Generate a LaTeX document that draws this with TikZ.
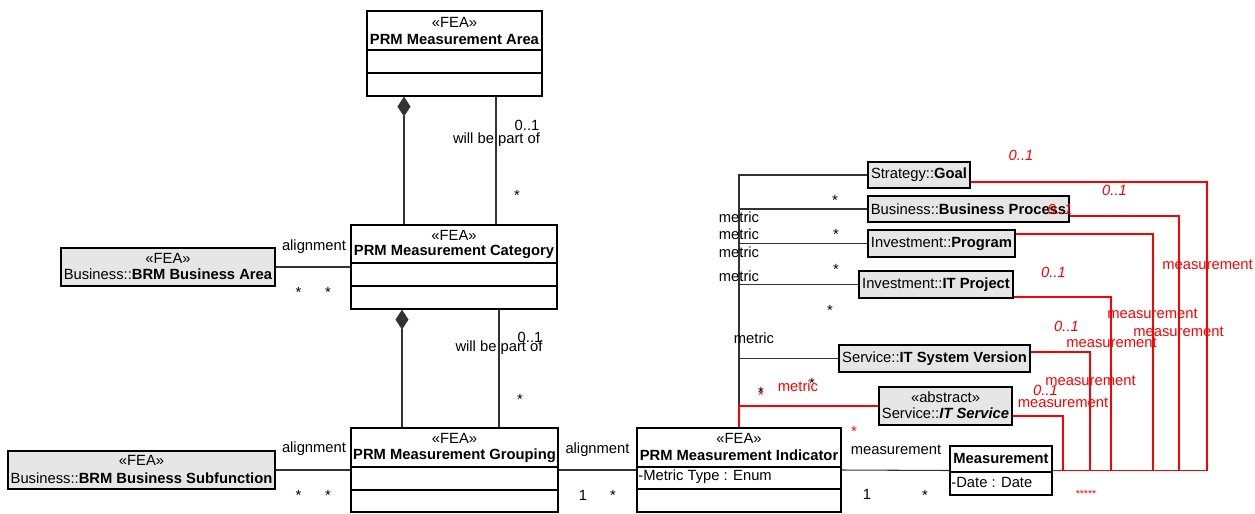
\documentclass[tikz,border=0pt]{standalone}
\usepackage{fontspec}
\setmainfont{Liberation Sans}
\usetikzlibrary{fit,arrows.meta}
\definecolor{boxgray}{RGB}{230,230,230}
\definecolor{umlred}{RGB}{255,0,0}
\tikzset{
  box/.style={draw, line width=0.7pt, inner sep=0pt},
  extbox/.style={box, fill=boxgray},
  lbl/.style={inner sep=0pt},
  redlbl/.style={lbl, text=umlred},
  assoc/.style={line width=0.6pt, draw=black!80},
  redassoc/.style={line width=0.7pt, draw=umlred},
  comp/.tip={Diamond[length=4mm,width=2.6mm]}
}
\begin{document}
\begin{tikzpicture}[x=0.2mm,y=-0.2mm,font=\fontsize{8.4}{10}\selectfont]
\useasboundingbox (0,0) rectangle (1255,513);

% FEA classes
\node[box, fit={(367,11) (542,96)}] (area) {};
\draw[box] (area.west |- 0,50) -- (area.east |- 0,50);
\draw[box] (area.west |- 0,73) -- (area.east |- 0,73);
\node[lbl] at (454.5,22) {«FEA»};
\node[lbl] at (454.5,39) {\textbf{PRM Measurement Area}};

\node[box, fit={(351,225) (557,309)}] (category) {};
\draw[box] (category.west |- 0,263) -- (category.east |- 0,263);
\draw[box] (category.west |- 0,286) -- (category.east |- 0,286);
\node[lbl] at (454,235) {«FEA»};
\node[lbl] at (454,252) {\textbf{PRM Measurement Category}};

\node[box, fit={(351,428) (558,512)}] (grouping) {};
\draw[box] (grouping.west |- 0,467) -- (grouping.east |- 0,467);
\draw[box] (grouping.west |- 0,490) -- (grouping.east |- 0,490);
\node[lbl] at (454.5,438) {«FEA»};
\node[lbl] at (454.5,456) {\textbf{PRM Measurement Grouping}};

\node[box, fit={(637,428) (841,512)}] (indicator) {};
\draw[box] (indicator.west |- 0,467) -- (indicator.east |- 0,467);
\draw[box] (indicator.west |- 0,489) -- (indicator.east |- 0,489);
\node[lbl] at (739,438.5) {«FEA»};
\node[lbl] at (739,455) {\textbf{PRM Measurement Indicator}};
\node[lbl, anchor=west] at (638,477) {-Metric Type : Enum};

\node[box, fill=white, fit={(950,446) (1052,495)}] (measure) {};
\draw[box] (measure.west |- 0,472) -- (measure.east |- 0,472);
\node[lbl] at (1001,458) {\textbf{Measurement}};
\node[lbl, anchor=west] at (951,482) {-Date : Date};

% outside classes
\node[extbox, fit={(61,248) (275,286)}] (brmarea) {};
\node[lbl] at (168,258) {«FEA»};
\node[lbl] at (168,274) {Business::\textbf{BRM Business Area}};

\node[extbox, fit={(8,451) (275,489)}] (brmsub) {};
\node[lbl] at (141.5,460) {«FEA»};
\node[lbl] at (141.5,478) {Business::\textbf{BRM Business Subfunction}};

\node[extbox, fit={(868,162) (970,188)}] (goal) {};
\node[lbl] at (goal) {Strategy::\textbf{Goal}};
\node[extbox, fit={(868,196) (1069,222)}] (bproc) {};
\node[lbl] at (bproc) {Business::\textbf{Business Process}};
\node[extbox, fit={(868,230) (1015,257)}] (program) {};
\node[lbl] at (program) {Investment::\textbf{Program}};
\node[extbox, fit={(859,271) (1013,298)}] (itproj) {};
\node[lbl] at (itproj) {Investment::\textbf{IT Project}};
\node[extbox, fit={(839,345) (1030,372)}] (itsysver) {};
\node[lbl] at (itsysver) {Service::\textbf{IT System Version}};
\node[extbox, fit={(879,387) (1012,425)}] (itserv) {};
\node[lbl] at (945.5,397) {«abstract»};
\node[lbl] at (945.5,413) {Service::\textbf{\itshape IT Service}};

% composition and alignment
\draw[assoc, comp-] (404,0 |- area.south) -- (404,0 |- category.north);
\draw[assoc] (496,0 |- area.south) -- (496,0 |- category.north);
\draw[assoc, comp-] (402,0 |- category.south) -- (402,0 |- grouping.north);
\draw[assoc] (499,0 |- category.south) -- (499,0 |- grouping.north);
\draw[assoc] (brmarea.east) -- (category.west);
\draw[assoc] (brmsub.east) -- (grouping.west);
\draw[assoc] (grouping.east) -- (indicator.west);
\draw[assoc] (indicator.east) -- (measure.west);

% metric
\foreach \cls in {goal,bproc,program,itproj,itsysver}
  \draw[assoc] (indicator.north) |- (\cls.west);
\draw[redassoc] (indicator.north) |- (itserv.west);

% measurement
\foreach \cls/\yy/\xx in {goal/182/1207, bproc/216/1179, program/234/1153,
    itproj/297/1111, itsysver/352/1090, itserv/416/1063}
  \draw[redassoc] (\cls.east |- 0,\yy) -| (\xx,0 |- measure.east) -- (measure.east);

% labels
\node[lbl] at (527,125) {0..1};
\node[lbl] at (496.5,140) {will be part of};
\node[lbl] at (517,195) {*};
\node[lbl] at (530,337) {0..1};
\node[lbl] at (499,348) {will be part of};
\node[lbl] at (520,399) {*};
\node[lbl] at (314,247) {alignment};
\node[lbl] at (298.5,292) {*};
\node[lbl] at (328,292) {*};
\node[lbl] at (314,449) {alignment};
\node[lbl] at (298.5,495) {*};
\node[lbl] at (328,495) {*};
\node[lbl] at (597.5,450) {alignment};
\node[lbl] at (583,495) {1};
\node[lbl] at (613,495) {*};
\node[lbl] at (896,450) {measurement};
\node[lbl] at (867,494) {1};
\node[lbl] at (925,495) {*};
\foreach \yy in {217,234,252,276}
  \node[lbl] at (739,\yy) {metric};
\node[lbl] at (754,338) {metric};
\foreach \xx/\yy in {835/200, 836/234, 836/269, 830/310, 812/383}
  \node[lbl] at (\xx,\yy) {*};
\node[redlbl] at (761,395) {*};
\node[lbl] at (761,392) {*};
\node[redlbl] at (798,386) {metric};
\node[redlbl] at (854,431) {*};
\foreach \xx/\yy in {1021/155, 1114.5/190, 1060/209, 1053.5/272, 1066.5/326, 1045.5/390}
  \node[redlbl] at (\xx,\yy) {\itshape 0..1};
\foreach \xx/\yy in {1207.5/265, 1152.5/314, 1178.5/332, 1111.5/343, 1090.5/381, 1063/403}
  \node[redlbl] at (\xx,\yy) {measurement};
\node[redlbl, font=\fontsize{6}{6}\selectfont] at (1086,494) {*****};
\end{tikzpicture}
\end{document}
